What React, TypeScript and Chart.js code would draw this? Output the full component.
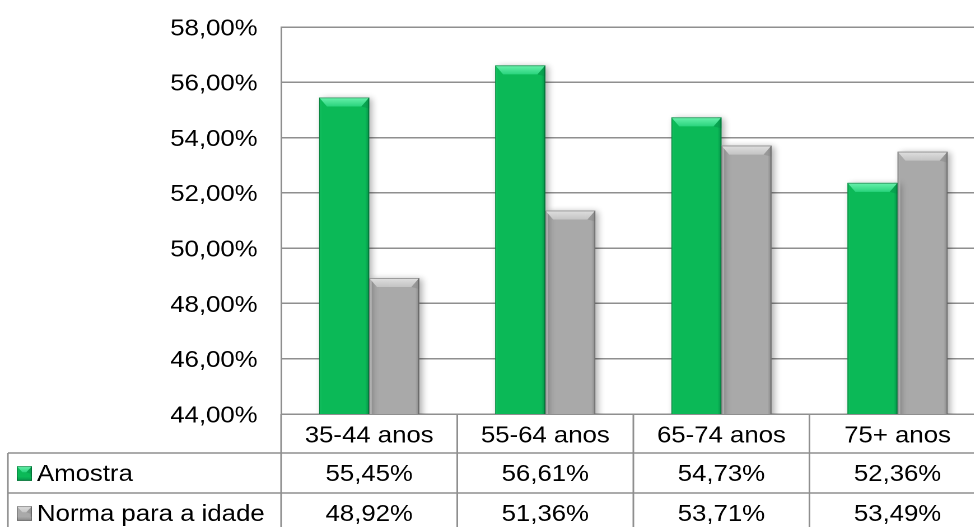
import React, { useEffect, useRef } from 'react';
import { Chart, registerables } from 'chart.js';

Chart.register(...registerables);

// ---- data ----
const categories = ['35-44 anos', '55-64 anos', '65-74 anos', '75+ anos'];
const seriesLabels = ['Amostra', 'Norma para a idade'];
const amostraValues = [55.45, 56.61, 54.73, 52.36];
const normaValues = [48.92, 51.36, 53.71, 53.49];
const yMin = 44;
const yMax = 58;
const yStep = 2;

// ---- layout / style ----
const SCALE_X = 1.12;
const CANVAS_W = 880;
const CANVAS_H = 527;
const PLOT_TOP = 27;
const PLOT_BOTTOM = 414;
const FONT_FAMILY = '"Liberation Sans", Arial, sans-serif';
const FONT_SIZE = 23;
const LINE = '#8f8f8f';

const palettes = [
  { body: '#0bb957', topA: '#6af2ad', topB: '#2ad47d', left: '#19c866', right: '#06924a', edge: 'rgba(0,70,30,0.5)' },
  { body: '#a9a9a9', topA: '#e0e0e0', topB: '#c4c4c4', left: '#b6b6b6', right: '#888888', edge: 'rgba(60,60,60,0.5)' },
];

const fmt = (v: number) => v.toFixed(2).replace('.', ',') + '%';

function drawBevel(ctx: CanvasRenderingContext2D, l: number, t: number, r: number, b: number, bx: number, by: number, sideL: number, sideR: number, pal: any, bottomEdge: boolean) {
  let g = ctx.createLinearGradient(l, 0, l + sideL, 0);
  g.addColorStop(0, pal.left);
  g.addColorStop(1, pal.body);
  ctx.fillStyle = g;
  ctx.fillRect(l, t, sideL, b - t);
  g = ctx.createLinearGradient(r - sideR, 0, r, 0);
  g.addColorStop(0, pal.body);
  g.addColorStop(1, pal.right);
  ctx.fillStyle = g;
  ctx.fillRect(r - sideR, t, sideR, b - t);
  g = ctx.createLinearGradient(0, t, 0, t + by);
  g.addColorStop(0, pal.topA);
  g.addColorStop(1, pal.topB);
  ctx.beginPath();
  ctx.moveTo(l, t);
  ctx.lineTo(r, t);
  ctx.lineTo(r - bx, t + by);
  ctx.lineTo(l + bx, t + by);
  ctx.closePath();
  ctx.fillStyle = g;
  ctx.fill();
  ctx.beginPath();
  ctx.moveTo(r, t);
  ctx.lineTo(r - bx, t + by);
  ctx.lineTo(r, t + by + 2);
  ctx.closePath();
  ctx.fillStyle = pal.right;
  ctx.globalAlpha = 0.5;
  ctx.fill();
  ctx.globalAlpha = 1;
  if (bottomEdge) {
    g = ctx.createLinearGradient(0, b - 4, 0, b);
    g.addColorStop(0, pal.body);
    g.addColorStop(1, pal.right);
    ctx.fillStyle = g;
    ctx.fillRect(l, b - 4, r - l, 4);
  }
  ctx.strokeStyle = pal.edge;
  ctx.lineWidth = 0.8;
  ctx.strokeRect(l + 0.4, t + 0.4, r - l - 0.8, b - t - 0.8);
}

const barStylePlugin = {
  id: 'barStyle',
  beforeDatasetsDraw(chart: any) {
    const ctx = chart.ctx;
    const dpr = chart.currentDevicePixelRatio || 1;
    ctx.save();
    ctx.shadowColor = 'rgba(0,0,0,0.32)';
    ctx.shadowBlur = 6 * dpr;
    ctx.shadowOffsetX = 2.5 * dpr;
    ctx.shadowOffsetY = 1 * dpr;
  },
  afterDatasetsDraw(chart: any) {
    const ctx = chart.ctx;
    ctx.restore();
    const ca = chart.chartArea;
    ctx.save();
    ctx.beginPath();
    ctx.rect(ca.left, ca.top - 2, ca.right - ca.left, ca.bottom - ca.top + 2);
    ctx.clip();
    chart.data.datasets.forEach((ds: any, di: number) => {
      const meta = chart.getDatasetMeta(di);
      meta.data.forEach((el: any) => {
        const p = el.getProps(['x', 'y', 'base', 'width'], true);
        const l = p.x - p.width / 2;
        const r = p.x + p.width / 2;
        drawBevel(ctx, l, p.y, r, p.base, 7, 9, 2.5, 3.5, palettes[di], false);
      });
    });
    ctx.restore();
  },
};

const tablePlugin = {
  id: 'dataTable',
  afterDraw(chart: any) {
    const ctx: CanvasRenderingContext2D = chart.ctx;
    const ca = chart.chartArea;
    const xs = chart.scales.x;
    const headerH = 39;
    const rowH = 40;
    const tableLeft = 7;
    const n = categories.length;
    const row0 = ca.bottom + headerH;
    const row1 = row0 + rowH;
    const row2 = row1 + rowH;
    const bounds: number[] = [];
    for (let i = 1; i < n; i++) bounds.push((xs.getPixelForValue(i - 1) + xs.getPixelForValue(i)) / 2);

    ctx.save();
    ctx.strokeStyle = LINE;
    ctx.lineWidth = 1.5;
    const line = (x1: number, y1: number, x2: number, y2: number) => {
      ctx.beginPath();
      ctx.moveTo(x1, y1);
      ctx.lineTo(x2, y2);
      ctx.stroke();
    };
    line(ca.left, ca.bottom, ca.left, row2);
    bounds.forEach((bx) => line(bx, ca.bottom, bx, row2));
    line(tableLeft, row0, tableLeft, row2);
    line(tableLeft, row0, ca.right, row0);
    line(tableLeft, row1, ca.right, row1);
    line(tableLeft, row2, ca.right, row2);

    ctx.font = `${FONT_SIZE}px ${FONT_FAMILY}`;
    ctx.fillStyle = '#000';
    ctx.textBaseline = 'middle';
    const rows = [row0, row1];
    chart.data.datasets.forEach((ds: any, di: number) => {
      const cy = rows[di] + rowH / 2 + 1.5;
      const mw = 13.5;
      const mh = 14.5;
      const mx = 15;
      const my = cy - mh / 2 - 1;
      ctx.fillStyle = palettes[di].body;
      ctx.fillRect(mx, my, mw, mh);
      drawBevel(ctx, mx, my, mx + mw, my + mh, 5, 6, 1.5, 2, palettes[di], true);
      ctx.fillStyle = '#000';
      ctx.textAlign = 'left';
      ctx.fillText(ds.label, 33, cy);
      ctx.textAlign = 'center';
      ds.data.forEach((v: number, i: number) => {
        ctx.fillText(fmt(v), xs.getPixelForValue(i), cy);
      });
    });
    ctx.restore();
  },
};

export default function App() {
  const ref = useRef<HTMLCanvasElement>(null);
  useEffect(() => {
    const canvas = ref.current;
    if (!canvas) return;
    const chart = new Chart(canvas, {
      type: 'bar',
      data: {
        labels: categories,
        datasets: [
          { label: seriesLabels[0], data: amostraValues, backgroundColor: palettes[0].body, borderWidth: 0 },
          { label: seriesLabels[1], data: normaValues, backgroundColor: palettes[1].body, borderWidth: 0 },
        ],
      },
      options: {
        responsive: false,
        animation: false,
        devicePixelRatio: 2,
        layout: { padding: { top: PLOT_TOP, bottom: CANVAS_H - PLOT_BOTTOM - 39, left: 0, right: 0 } },
        datasets: { bar: { categoryPercentage: 0.568, barPercentage: 1 } },
        plugins: { legend: { display: false }, tooltip: { enabled: false }, title: { display: false } },
        scales: {
          x: {
            grid: { display: false, drawTicks: false },
            border: { display: true, color: LINE, width: 1.5 },
            ticks: { color: '#000', font: { family: FONT_FAMILY, size: FONT_SIZE }, padding: 8.5, maxRotation: 0 },
            afterFit: (scale: any) => { scale.height = 39; },
          },
          y: {
            min: yMin,
            max: yMax,
            grid: { color: LINE, lineWidth: 1.5, drawTicks: false },
            border: { display: true, color: LINE, width: 1.5 },
            ticks: {
              stepSize: yStep,
              color: '#000',
              padding: 21,
              labelOffset: 2,
              font: { family: FONT_FAMILY, size: FONT_SIZE },
              callback: (v: any) => fmt(Number(v)),
            },
            afterFit: (scale: any) => {
              scale.width = 251;
              scale.paddingTop = 14;
              scale.paddingBottom = 14;
            },
          },
        },
      },
      plugins: [barStylePlugin, tablePlugin],
    } as any);
    return () => chart.destroy();
  }, []);
  return (
    <div style={{ position: 'fixed', left: 0, top: 0, width: 974, height: 527, overflow: 'hidden', background: '#fff' }}>
      <div style={{ width: CANVAS_W, height: CANVAS_H, transform: `scaleX(${SCALE_X})`, transformOrigin: '0 0' }}>
        <canvas ref={ref} width={CANVAS_W} height={CANVAS_H} style={{ display: 'block', width: CANVAS_W, height: CANVAS_H }} />
      </div>
    </div>
  );
}
